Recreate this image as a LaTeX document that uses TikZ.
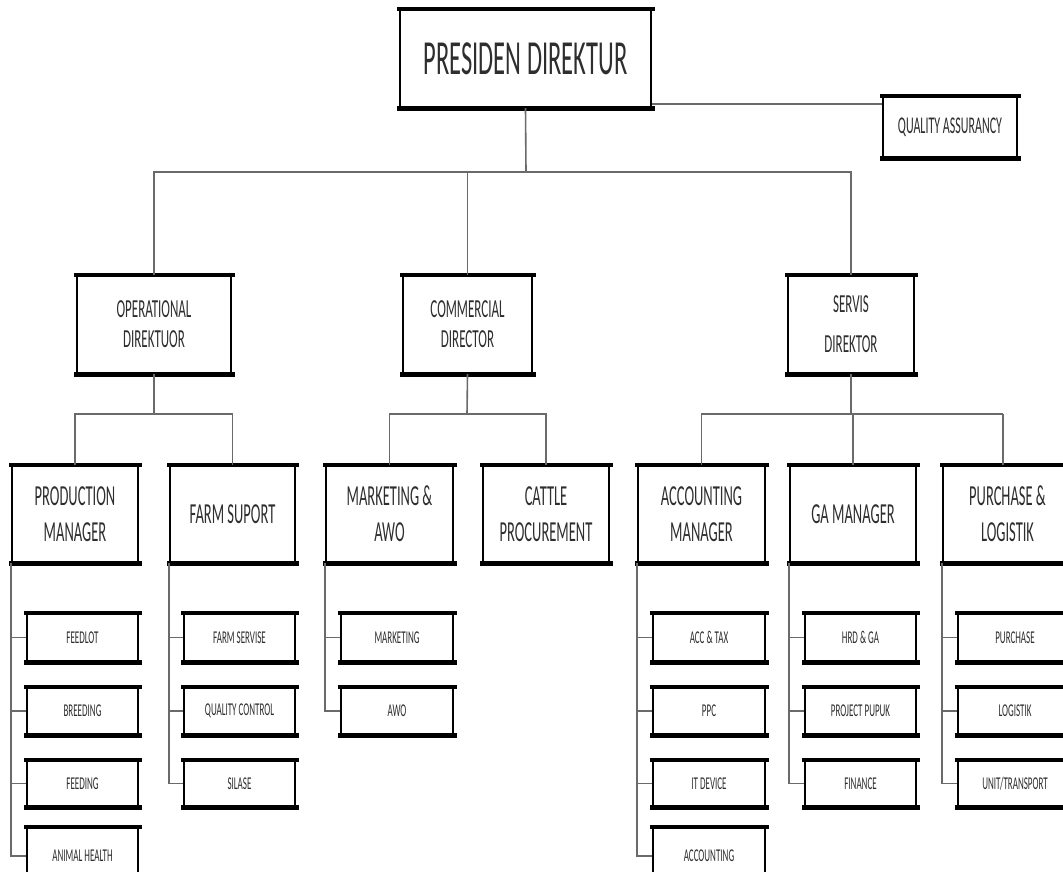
\documentclass[tikz,border=0pt]{standalone}
\usepackage{fontspec}
\newfontfamily\cf[FakeStretch=0.5]{Carlito}
\definecolor{conncol}{HTML}{6A6A6A}
\definecolor{txtcol}{HTML}{2E2E2E}
\tikzset{
  box/.style={draw=black, line width=2.4pt, fill=white, inner sep=0pt, text=txtcol, align=center},
  conn/.style={draw=conncol, line width=1.6pt},
  lvone/.style={box, font=\cf\fontsize{49}{55}\selectfont},
  lvqa/.style={box, font=\cf\fontsize{24}{28}\selectfont},
  lvtwo/.style={box, font=\cf\fontsize{26}{30}\selectfont},
  lvthree/.style={box, font=\cf\fontsize{29}{36}\selectfont},
  lvsub/.style={box, font=\cf\fontsize{18}{22}\selectfont},
}
% box from (x1,y1) to (x2,y2)
\newcommand{\bx}[7]{\node[#1, minimum width=#5pt-#3pt, minimum height=#6pt-#4pt] (#2) at ({(#3+#5)/2},{(#4+#6)/2}) {#7};}
\begin{document}
\begin{tikzpicture}[x=1pt,y=-1pt]
\useasboundingbox (0,0) rectangle (1063,871);
\fill[white] (0,0) rectangle (1063,871);

% level 1
\bx{lvone}{pd}{400}{10}{651}{107}{PRESIDEN DIREKTUR}
\bx{lvqa}{qa}{883}{97}{1017}{157}{QUALITY ASSURANCY}
% level 2
\bx{lvtwo}{op}{77}{276}{231}{373}{OPERATIONAL\\DIREKTUOR}
\bx{lvtwo}{cm}{403}{276}{532}{373}{COMMERCIAL\\DIRECTOR}
\bx{lvtwo, font=\cf\fontsize{26}{40}\selectfont}{sv}{788}{276}{914}{373}{SERVIS\\DIREKTOR}
% level 3
\bx{lvthree}{pm}{12}{466}{138}{562}{PRODUCTION\\MANAGER}
\bx{lvthree}{fs}{170}{466}{295}{562}{FARM SUPORT}
\bx{lvthree}{mk}{326}{466}{453}{562}{MARKETING \&\\AWO}
\bx{lvthree}{cp}{483}{466}{609}{562}{CATTLE\\PROCUREMENT}
\bx{lvthree}{am}{638}{466}{765}{562}{ACCOUNTING\\MANAGER}
\bx{lvthree}{ga}{790}{466}{916}{562}{GA MANAGER}
\bx{lvthree}{pl}{943}{466}{1072}{562}{PURCHASE \&\\LOGISTIK}
% sub items
\bx{lvsub}{pm1}{27}{614}{138}{661}{FEEDLOT}
\bx{lvsub}{pm2}{27}{688}{138}{734}{BREEDING}
\bx{lvsub}{pm3}{27}{761}{138}{806}{FEEDING}
\bx{lvsub}{pm4}{27}{828}{138}{884}{ANIMAL HEALTH}
\bx{lvsub}{fs1}{184}{614}{295}{661}{FARM SERVISE}
\bx{lvsub}{fs2}{184}{688}{295}{734}{QUALITY CONTROL}
\bx{lvsub}{fs3}{184}{761}{295}{806}{SILASE}
\bx{lvsub}{mk1}{341}{614}{453}{661}{MARKETING}
\bx{lvsub}{mk2}{341}{688}{453}{734}{AWO}
\bx{lvsub}{am1}{653}{614}{765}{661}{ACC \& TAX}
\bx{lvsub}{am2}{653}{688}{765}{734}{PPC}
\bx{lvsub}{am3}{653}{761}{765}{806}{IT DEVICE}
\bx{lvsub}{am4}{653}{828}{765}{884}{ACCOUNTING}
\bx{lvsub}{ga1}{805}{614}{916}{661}{HRD \& GA}
\bx{lvsub}{ga2}{805}{688}{916}{734}{PROJECT PUPUK}
\bx{lvsub}{ga3}{805}{761}{916}{806}{FINANCE}
\bx{lvsub}{pl1}{958}{614}{1072}{661}{PURCHASE}
\bx{lvsub}{pl2}{958}{688}{1072}{734}{LOGISTIK}
\bx{lvsub}{pl3}{958}{761}{1072}{806}{UNIT/TRANSPORT}

% heavy top and bottom edges
\foreach \n in {pd,qa,op,cm,sv,pm,fs,mk,cp,am,ga,pl,pm1,pm2,pm3,pm4,fs1,fs2,fs3,mk1,mk2,am1,am2,am3,am4,ga1,ga2,ga3,pl1,pl2,pl3}
  \draw[line width=4.6pt, line cap=rect] (\n.north west) -- (\n.north east) (\n.south west) -- (\n.south east);

% connectors
\coordinate (j1) at (526,172);
\draw[conn] (pd.south) -- (j1);
\draw[conn] (op.north) |- (j1) -| (sv.north);
\draw[conn] (cm.north) -- (cm.north |- j1);
\draw[conn] ([yshift=4pt]pd.south east) -- ([yshift=4pt]pd.south east -| qa.west);

\coordinate (j2) at (154,414);
\draw[conn] (op.south) -- (j2);
\draw[conn] (pm.north) |- (j2) -| (fs.north);
\coordinate (j3) at (467,414);
\draw[conn] (cm.south) -- (j3);
\draw[conn] (mk.north) |- (j3) -| (cp.north);
\coordinate (j4) at (851,414);
\coordinate (j5) at (1003,414);
\draw[conn] (sv.south) -- (j4);
\draw[conn] (am.north) |- (j5);
\draw[conn] (j5) -- (j5 |- pl.north);
\draw[conn] (ga.north) -- (ga.north |- j4);

% sub-item trees
\draw[conn] (pm.south west) |- (pm4.west);
\foreach \s in {pm1,pm2,pm3} \draw[conn] (\s.west) -- (\s.west -| pm.south west);
\draw[conn] (fs.south west) |- (fs3.west);
\foreach \s in {fs1,fs2} \draw[conn] (\s.west) -- (\s.west -| fs.south west);
\draw[conn] (mk.south west) |- (mk2.west);
\draw[conn] (mk1.west) -- (mk1.west -| mk.south west);
\draw[conn] (am.south west) |- (am4.west);
\foreach \s in {am1,am2,am3} \draw[conn] (\s.west) -- (\s.west -| am.south west);
\draw[conn] (ga.south west) |- (ga3.west);
\foreach \s in {ga1,ga2} \draw[conn] (\s.west) -- (\s.west -| ga.south west);
\draw[conn] (pl.south west) |- (pl3.west);
\foreach \s in {pl1,pl2} \draw[conn] (\s.west) -- (\s.west -| pl.south west);
\end{tikzpicture}
\end{document}
